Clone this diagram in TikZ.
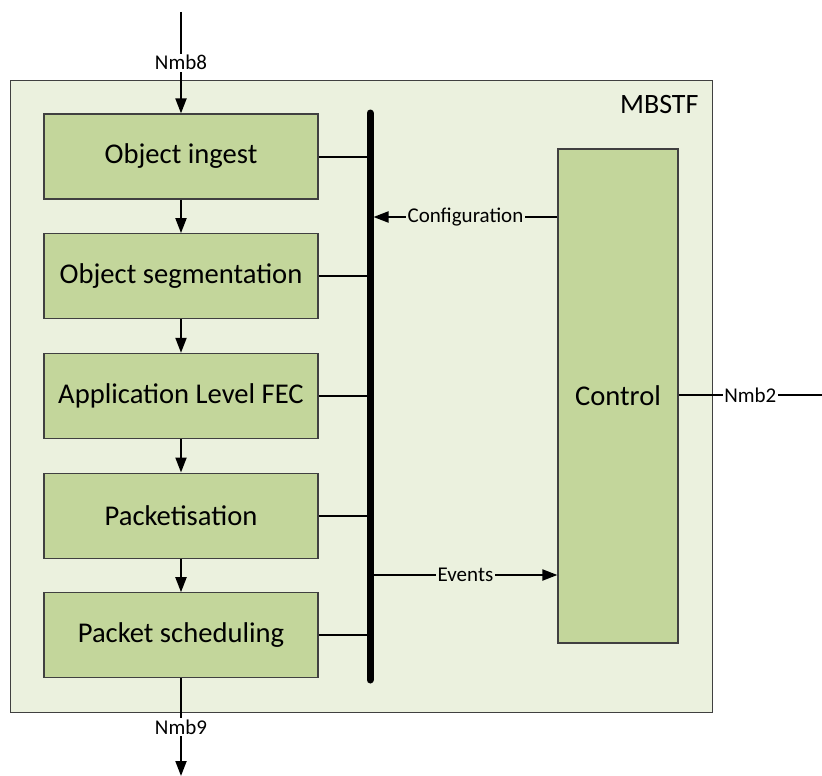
\documentclass[tikz,border=0pt]{standalone}
\usepackage{fontspec}
\setmainfont{Carlito}
\usepackage{tikz}
\usetikzlibrary{arrows.meta,positioning}

\definecolor{mbstfbg}{HTML}{EBF1DE}
\definecolor{blockfill}{HTML}{C3D69B}

\tikzset{
  block/.style={draw=black!75, fill=blockfill, line width=1.2pt,
    minimum width=274pt, minimum height=85pt, inner sep=0pt,
    font=\fontsize{28.6}{32}\selectfont},
  flow/.style={line width=2pt, -{Triangle[length=15pt,width=11pt]}},
  link/.style={line width=2pt},
  lbl/.style={fill=mbstfbg, inner sep=1.5pt, font=\fontsize{21}{24}\selectfont},
  outlbl/.style={lbl, fill=white},
}

\begin{document}
\begin{tikzpicture}[x=1pt, y=-1pt, node distance=33.5pt]
        \useasboundingbox (0,0) rectangle (822,776);

        % The function box
        \node[draw=black!75, fill=mbstfbg, line width=1.2pt, anchor=north west,
              minimum width=702pt, minimum height=632pt, inner sep=0pt] (mbstf) at (10,80) {};
        \node[anchor=base east, font=\fontsize{28}{32}\selectfont] (title) at (702,113) {MBSTF};

        % Processing chain
        \node[block] (ingest) at (181,156.5) {Object ingest};
        \node[block, below=of ingest] (segment) {Object segmentation};
        \node[block, below=of segment] (fec) {Application Level FEC};
        \node[block, below=of fec] (packet) {Packetisation};
        \node[block, below=of packet] (sched) {Packet scheduling};

        \draw[flow] (ingest) -- (segment);
        \draw[flow] (segment) -- (fec);
        \draw[flow] (fec) -- (packet);
        \draw[flow] (packet) -- (sched);

        % Control block
        \node[block, minimum width=120pt, minimum height=494pt] (control) at (618,396) {Control};

        % The bus
        \coordinate (bustop) at (370,113);
        \coordinate (busbot) at (370,680);
        \draw[line width=7pt, line cap=round] (bustop) -- (busbot);
        \foreach \b in {ingest,segment,fec,packet,sched}
            \draw[link] (\b.east) -- (\b.east -| bustop);

        % Configuration and events
        \coordinate (confend) at (373.5,217);
        \coordinate (evstart) at (373.5,575);
        \draw[flow] (control.west |- confend) -- node[lbl] (conf) {Configuration} (confend);
        \draw[flow] (evstart) -- node[lbl] (events) {Events} (control.west |- evstart);

        % Reference points
        \coordinate (nmbtop) at (181,12);
        \coordinate (nmbbot) at (181,776);
        \coordinate (nmbright) at (822,395);
        \draw[flow] (nmbtop) -- node[outlbl] (nmb8) {Nmb8} (ingest.north);
        \draw[flow] (sched.south) -- node[outlbl] (nmb9) {Nmb9} (nmbbot);
        \draw[link] (control.east |- nmbright) -- node[outlbl] (nmb2) {Nmb2} (nmbright);
\end{tikzpicture}
\end{document}
